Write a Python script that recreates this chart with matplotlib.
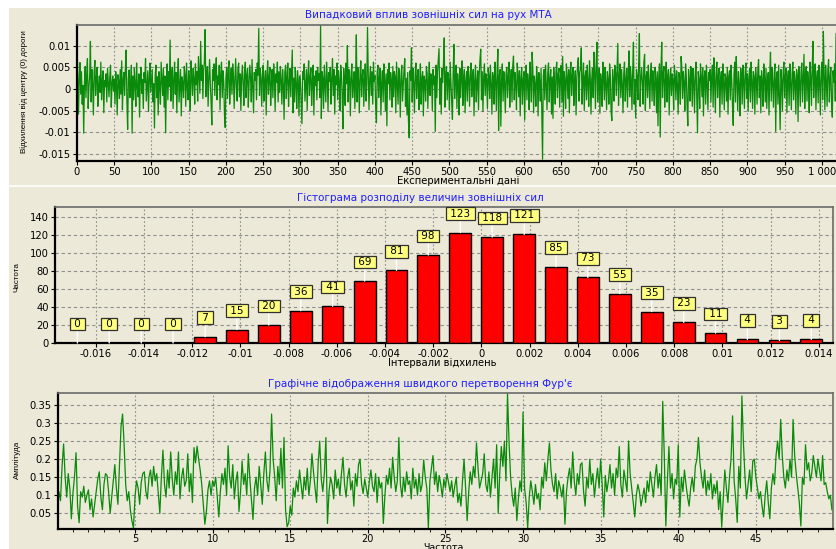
import matplotlib
matplotlib.use("Agg")
import matplotlib.pyplot as plt
import numpy as np
from matplotlib.ticker import FuncFormatter, MultipleLocator
from matplotlib.patches import Rectangle
from matplotlib.lines import Line2D

# ---------------- data ----------------
# Panel 1: random external influence, deviation from road centre (units of 1e-4)
deviation_e4 = [
    98, 35, -58, 22, 61, -12, 40, -35, 8, -102, 15, 52, -20, 33, 70, -45, 5, 28, 110, -30, 45, 12, -60, 38, 66,
    -15, 25, 50, -40, 10, 30, -8, 62, -25, 18, 42, -55, 20, 5, 35, -30, 48, 15, -18, 27, 55, -42, 12, 30, -5,
    22, -35, 40, 8, -60, 33, 18, -22, 45, -12, 65, -48, 20, 38, -15, 52, 90, -30, -93, 25, 44, -20, 10, 55, -102,
    30, -25, 48, 12, -40, 60, 5, -18, 35, -65, 28, 50, -10, 22, -45, 38, 15, 70, -28, 8, 42, -52, 25, 60, -8,
    18, 45, -30, 12, -90, 35, 55, -20, 28, -60, 40, 10, -35, 62, 22, -15, 48, -42, 30, -101, 15, 58, -25, 40, 5,
    113, -28, 35, 50, -45, 20, 62, -12, 38, -55, 25, 70, -30, 10, 45, -62, 28, 15, -20, 52, 33, -40, 60, 8, -25,
    42, 18, -50, 65, 30, -15, 48, 22, -35, 58, 10, 40, -28, 75, 35, -10, 110, 20, 55, -22, 45, 62, 137, -18, 30,
    52, -40, 25, 68, 12, -30, -83, 45, 20, 58, -15, 38, 72, -25, 30, 10, 55, -48, 35, 62, -20, 42, 18, -60, -89,
    28, 50, -22, 40, 65, -35, 15, 48, -12, 58, 30, -45, 22, 70, 5, -28, 45, 60, -18, 35, -50, 25, 55, 12, -38,
    40, 62, -20, 30, 48, -42, 15, 55, 25, -30, 68, 10, -55, 38, 20, 45, -25, 60, 32, 140, -15, 48, 22, -40, 35,
    55, -28, 18, 42, -60, 30, 65, -12, 25, 50, -38, 12, 45, -20, 58, 28, -50, 35, 15, 62, -30, 40, -8, 52, 20,
    -35, 45, 10, -70, 38, 55, -22, 28, 60, -40, 15, 48, -18, 35, 90, -55, 25, -30, 50, 12, -45, 42, 20, -62, 30,
    15, -35, -80, 40, 22, 58, -28, 10, 45, -50, 32, 65, -15, 25, 48, -38, 18, 55, -60, 30, 8, 42, -25, 50, 20,
    35, -20, 148, -68, 40, 25, -45, 55, 12, -30, 62, 28, -52, 38, 18, 50, -35, 22, 70, -15, 45, -58, 30, 10, 60,
    -25, 42, 18, -50, 55, 30, -15, -92, 48, 22, -38, 60, 12, 100, -30, 45, 25, -62, 35, 58, -20, 15, 40, -45, 28,
    125, -30, 50, 20, -55, 38, 65, -18, 30, 45, -40, 22, 58, -28, 10, 142, 35, -48, 25, 52, -15, 40, -35, 62, 18,
    30, -45, -78, 38, 55, -20, 25, 48, -60, 15, 42, -30, 58, 22, -50, 35, -85, 45, 12, 60, -25, 38, 20, -42, 52,
    -18, 40, 28, -55, 62, 15, -35, 48, 22, -65, 30, 55, -28, 10, 45, 70, -40, 25, -60, 38, -75, -113, 42, 20, 95,
    -30, 48, 15, -55, 35, 60, -22, 28, 45, -48, 12, 58, -35, 25, 40, -62, 30, 18, -28, 52, 38, -45, 20, 62, -15,
    35, 22, -50, 45, 10, 30, -98, 55, -20, 40, 68, 93, -35, 25, -58, 48, 15, 60, 118, -42, 30, 52, -25, 38, 20,
    -48, 62, 15, -30, -70, 40, 103, -22, 28, 55, -45, 35, 12, -60, 48, -20, 30, 65, -38, 22, 45, -55, 18, 40, -28,
    52, 25, -40, 38, 60, -18, 30, 45, -62, 20, 55, -30, 15, 42, -48, 35, 68, 92, -25, 40, -52, 28, 58, -15, 35,
    20, -45, 48, 30, -22, 55, 12, -58, 38, 25, -35, 62, 18, -50, 42, 92, -96, 30, 45, -86, 22, 58, -28, 40, 15,
    -55, 35, 50, -20, 28, 62, -42, 18, 45, -30, 55, 76, -25, 38, 12, -48, 60, 30, -18, 42, -62, 25, 50, -35, 20,
    40, -72, 28, 55, -25, 35, 15, -48, 62, 20, -30, 85, 42, -55, 30, 10, -40, 52, 25, -62, 38, 18, -28, 48, -50,
    -162, 30, 45, -25, 55, 12, -48, 38, 60, -30, 22, 45, -58, 28, -68, 50, 15, -35, 40, 62, -20, 32, 48, -42, 25,
    55, -30, 75, -63, 40, 20, -45, 58, 28, -22, 45, -55, 35, 62, -15, 30, 50, -38, 18, 42, -60, 25, 55, 72, -28,
    38, 48, 95, -35, 20, 60, -50, 28, 42, -25, 55, 15, -40, 65, 30, -58, 22, 48, -20, 85, 40, -45, 58, 108, -30,
    25, 48, -56, 35, 18, -40, 62, 28, -25, 50, 12, -48, 40, 22, -35, 58, 30, -52, -73, 45, 20, -28, 55, 38, -15,
    42, 105, -38, 25, 58, -20, 45, 12, -55, 35, 62, -28, 20, 48, -42, 30, 88, -18, 52, 25, -48, 40, 108, -35, 22,
    -67, 45, 30, -25, 58, 128, -40, 22, 48, 15, -35, 62, 80, -50, 28, 40, -20, 55, 18, -45, 35, 60, -28, 42, 12,
    -38, 50, 25, -55, 40, -85, 30, 58, -111, 45, 108, -20, 35, 52, -42, 18, 62, -30, 28, 45, -60, 22, 48, -15, 35,
    20, -48, 55, 30, -25, 42, 12, -58, 38, 25, -35, 75, 50, -22, 40, 15, -50, 58, 28, -38, -85, 45, 20, -28, 52,
    30, -40, 48, 18, -55, 35, 62, -25, -101, 40, 22, -45, 58, 30, -18, 48, -62, 25, 42, -35, 55, 12, -48, 38, 20,
    45, -30, 28, 55, -42, 72, 18, -55, 38, 62, -20, 30, 48, -65, 22, 40, -35, 58, 15, -48, 35, 25, -28, 50, -58,
    30, 42, -25, 55, 18, -40, -84, 35, 62, -30, 75, 22, -50, 40, 12, -62, 48, 28, -35, 55, 20, -45, 38, 60, -22,
    35, -52, 25, 48, -30, 62, 15, -45, 40, 28, -58, 50, 22, -35, 45, 68, -20, 30, -55, 42, 18, -40, 58, 25, -30,
    48, -45, 20, 38, -60, 32, 85, -28, 50, 15, -42, 35, 58, -98, 25, 40, -35, 55, -25, -94, 45, 22, -50, 38, 62,
    -20, 30, 48, -55, 25, 42, -38, 58, 15, -48, 35, 62, -25, 40, 20, -58, 45, 30, -75, 52, 18, -40, 38, 60, -30,
    25, 80, -45, 35, 52, -28, 40, 15, -55, 62, 30, -38, 48, 110, -20, 35, 58, -48, 25, 42, -32, 55, 18, -60, 40,
    62, -25, 133, 30, -48, 55, 20, -40, 45, 68, -30, 25, 50, -35, -65, 42, 15, 58, -28, 128, 35, -45,
]

# Panel 2: histogram
bin_centers = [-0.01676, -0.01544, -0.01411, -0.01279, -0.01146, -0.01014, -0.00882, -0.00749,
               -0.00617, -0.00484, -0.00352, -0.00220, -0.00087, 0.00045, 0.00178, 0.00310,
               0.00442, 0.00575, 0.00707, 0.00840, 0.00972, 0.01104, 0.01237, 0.01369]
counts = [0, 0, 0, 0, 7, 15, 20, 36, 41, 69, 81, 98, 123, 118, 121, 85, 73, 55, 35, 23, 11, 4, 3, 4]

# Panel 3: FFT amplitude (units of 1e-3), frequency step 0.1
freq_step = 0.1
amplitude_e3 = [
    60, 110, 85, 180, 242, 150, 95, 160, 120, 35, 105, 150, 218, 70, 24, 110, 95, 125, 80, 100, 115, 60, 90, 40, 75,
    110, 145, 165, 95, 60, 130, 160, 155, 110, 50, 95, 140, 185, 120, 75, 180, 290, 325, 240, 130, 85, 110, 60, 30, 9,
    95, 140, 120, 75, 135, 160, 165, 110, 90, 150, 170, 125, 180, 140, 160, 105, 50, 150, 225, 130, 95, 170, 120, 220, 145,
    100, 165, 130, 220, 90, 150, 175, 125, 140, 215, 110, 160, 80, 232, 190, 236, 200, 170, 130, 75, 20, 55, 115, 140, 100,
    140, 125, 150, 95, 40, 110, 160, 130, 175, 100, 237, 150, 120, 185, 90, 140, 165, 55, 110, 195, 130, 160, 100, 215, 145,
    90, 33, 120, 150, 100, 180, 130, 75, 160, 220, 140, 110, 170, 325, 200, 150, 85, 180, 130, 230, 120, 260, 60, 13, 24,
    70, 45, 120, 95, 140, 110, 170, 130, 90, 150, 115, 175, 100, 140, 215, 165, 120, 80, 190, 250, 145, 110, 160, 260, 22,
    110, 150, 130, 90, 170, 120, 145, 100, 160, 205, 130, 95, 150, 175, 115, 140, 70, 160, 125, 185, 200, 130, 105, 145, 120,
    95, 140, 170, 125, 110, 160, 80, 150, 120, 135, 22, 100, 155, 130, 175, 120, 205, 150, 110, 140, 260, 130, 95, 150, 110,
    165, 130, 140, 90, 175, 120, 145, 100, 160, 110, 130, 198, 150, 120, 10, 140, 175, 210, 130, 165, 110, 155, 130, 95, 145,
    120, 160, 135, 110, 140, 95, 125, 150, 80, 105, 70, 140, 200, 120, 30, 110, 165, 130, 180, 150, 245, 175, 120, 140, 160,
    215, 130, 110, 165, 95, 150, 200, 120, 240, 50, 160, 235, 180, 250, 140, 382, 245, 150, 100, 70, 120, 30, 90, 140, 110,
    330, 120, 80, 10, 95, 140, 110, 75, 130, 90, 105, 60, 150, 120, 190, 140, 200, 245, 170, 130, 110, 160, 90, 140, 120,
    95, 130, 20, 110, 150, 175, 120, 220, 140, 100, 160, 130, 185, 190, 110, 70, 150, 120, 200, 130, 160, 95, 140, 175, 120,
    200, 130, 40, 155, 110, 140, 185, 120, 160, 100, 175, 150, 235, 130, 95, 170, 140, 110, 250, 160, 120, 80, 40, 100, 130,
    110, 70, 95, 120, 80, 140, 110, 165, 130, 95, 150, 185, 120, 160, 100, 360, 210, 15, 140, 235, 120, 160, 90, 145, 130,
    240, 40, 150, 110, 170, 130, 95, 70, 120, 150, 110, 180, 200, 260, 190, 150, 120, 170, 100, 140, 115, 160, 90, 130, 105,
    140, 60, 110, 12, 90, 170, 120, 80, 150, 200, 320, 140, 90, 25, 180, 120, 375, 245, 150, 90, 130, 170, 110, 195, 200,
    150, 120, 90, 110, 70, 40, 100, 140, 80, 35, 120, 160, 130, 210, 250, 200, 310, 210, 150, 120, 170, 140, 200, 150, 310,
    210, 160, 120, 80, 15, 150, 130, 240, 170, 190, 140, 160, 210, 180, 150, 200, 170, 140, 210, 130, 135, 110, 90, 100, 60,
]

title1 = "Випадковий вплив зовнішніх сил на рух МТА"
title2 = "Гістограма розподілу величин зовнішніх сил"
title3 = "Графічне відображення швидкого перетворення Фур'є"
xlabel1 = "Експериментальні дані"
ylabel1 = "Відхилення від центру (0) дороги"
xlabel2 = "Інтервали відхилень"
ylabel2 = "Частота"
xlabel3 = "Частота"
ylabel3 = "Амплітуда"

# ---------------- style ----------------
W, H = 837, 549
BG = "#ECE9D8"
GREEN = "#0a8a0a"
GRID = "#8f8f8f"
TITLE_C = "#1f1fff"
plt.rcParams["font.family"] = ["DejaVu Sans"]
plt.rcParams["font.size"] = 7.5

fig = plt.figure(figsize=(W / 100, H / 100), dpi=100)
fig.patch.set_facecolor(BG)


def rect(l, t, r, b):
    return [l / W, 1 - b / H, (r - l) / W, (b - t) / H]


def fpt(x, y):
    return x / W, 1 - y / H


# white framing strips
fig.add_artist(Rectangle((0, 1 - 8 / H), 1, 8 / H, transform=fig.transFigure,
                         facecolor="white", edgecolor="none", zorder=-5))
fig.add_artist(Rectangle((0, 0), 9 / W, 1, transform=fig.transFigure,
                         facecolor="white", edgecolor="none", zorder=-5))
fig.add_artist(Line2D([9 / W, 1], [1 - 185.5 / H] * 2, transform=fig.transFigure,
                      color="white", lw=1.2, zorder=-4))


def style_axes(ax):
    ax.set_facecolor(BG)
    for s in ("left", "bottom"):
        ax.spines[s].set_color("black")
        ax.spines[s].set_linewidth(1.6)
    for s in ("top", "right"):
        ax.spines[s].set_color("#6a6a6a")
        ax.spines[s].set_linewidth(1.2)
    ax.tick_params(axis="both", which="major", direction="out", length=3, width=0.8,
                   pad=1.5, labelsize=7.2, colors="black")
    ax.tick_params(axis="both", which="minor", direction="out", length=2, width=0.6)
    ax.grid(True, axis="y", color=GRID, linestyle=(0, (3, 2.5)), linewidth=0.8)
    ax.grid(True, axis="x", color=GRID, linestyle=(0, (1.5, 2)), linewidth=0.8)
    ax.set_axisbelow(True)


def gfmt(v, _):
    v = round(v, 6)
    if abs(v) < 1e-12:
        return "0"
    return f"{v:g}"


# ---------------- panel 1 ----------------
deviation = np.array(deviation_e4) * 1e-4
samples = np.arange(len(deviation))
ax1 = fig.add_axes(rect(77, 25, 842, 161))
style_axes(ax1)
ax1.plot(samples, deviation, color=GREEN, lw=0.9)
ax1.set_xlim(0, 1027)
ax1.set_ylim(-0.01662, 0.01477)
ax1.xaxis.set_major_locator(MultipleLocator(50))
ax1.yaxis.set_major_locator(MultipleLocator(0.005))
ax1.xaxis.set_major_formatter(FuncFormatter(lambda v, _: f"{int(round(v)):,}".replace(",", " ")))
ax1.yaxis.set_major_formatter(FuncFormatter(gfmt))

# ---------------- panel 2 ----------------
ax2 = fig.add_axes(rect(55, 207, 833, 343))
style_axes(ax2)
ax2.bar(bin_centers, counts, width=0.0009, color="#ff0000", edgecolor="black", linewidth=1.0, zorder=3)
ax2.set_xlim(-0.017689, 0.014593)
ax2.set_ylim(0, 151.5)
ax2.xaxis.set_major_locator(MultipleLocator(0.002))
ax2.yaxis.set_major_locator(MultipleLocator(20))
ax2.xaxis.set_major_formatter(FuncFormatter(gfmt))
for xc, c in zip(bin_centers, counts):
    ax2.annotate(f" {c} ", xy=(xc, c), xytext=(0, 13.7), textcoords="offset points",
                 ha="center", va="center", fontsize=7.5, zorder=5, annotation_clip=False,
                 bbox=dict(boxstyle="square,pad=0.12", facecolor="#ffff80", edgecolor="#303030", linewidth=0.9),
                 arrowprops=dict(arrowstyle="-", color="white", lw=1.0, shrinkA=0, shrinkB=0))

# ---------------- panel 3 ----------------
amplitude = np.array(amplitude_e3) * 1e-3
freq = np.arange(len(amplitude)) * freq_step
ax3 = fig.add_axes(rect(57.7, 393.3, 833, 528.7))
style_axes(ax3)
ax3.tick_params(axis="x", which="major", pad=1.0, labelsize=7.0)
ax3.plot(freq, amplitude, color=GREEN, lw=0.9)
ax3.set_xlim(0.02, 49.97)
ax3.set_ylim(0.0075, 0.3824)
ax3.xaxis.set_major_locator(MultipleLocator(5))
ax3.xaxis.set_minor_locator(MultipleLocator(1))
ax3.yaxis.set_major_locator(MultipleLocator(0.05))
ax3.xaxis.set_major_formatter(FuncFormatter(gfmt))
ax3.yaxis.set_major_formatter(FuncFormatter(gfmt))

# ---------------- titles & labels ----------------
fig.text(*fpt(428, 15), title1, color=TITLE_C, ha="center", va="center", fontsize=7.5)
fig.text(*fpt(420, 198), title2, color=TITLE_C, ha="center", va="center", fontsize=7.5)
fig.text(*fpt(420, 384), title3, color=TITLE_C, ha="center", va="center", fontsize=7.5)

fig.text(*fpt(458, 181.5), xlabel1, ha="center", va="center", fontsize=7.2)
fig.text(*fpt(442, 363), xlabel2, ha="center", va="center", fontsize=7.2)
fig.text(*fpt(443, 547.5), xlabel3, ha="center", va="center", fontsize=6.8)

YL = dict(ha="center", va="center", rotation=90, fontsize=5.8, family=["Liberation Sans", "DejaVu Sans"])
fig.text(*fpt(24, 92), ylabel1, **YL)
fig.text(*fpt(17, 277), ylabel2, **YL)
fig.text(*fpt(17, 460), ylabel3, **YL)

fig.savefig("out.png", dpi=100, facecolor=fig.get_facecolor())
